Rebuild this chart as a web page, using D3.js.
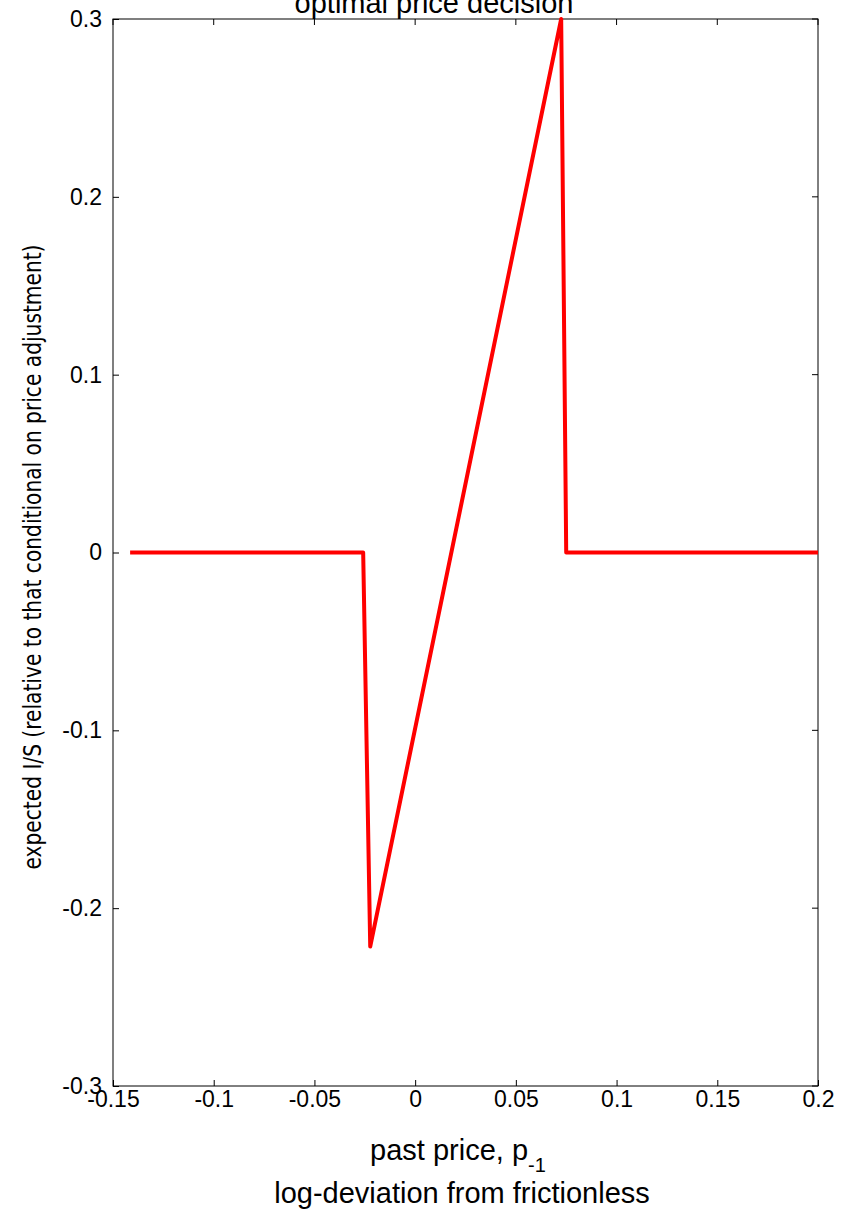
<!DOCTYPE html>
<html><head><meta charset="utf-8">
<script src="https://cdn.jsdelivr.net/npm/d3@7"></script>
<style>body{margin:0;background:#fff}</style>
</head><body>
<script>
const xs = [-0.1415, -0.0258, -0.0223, 0.0725, 0.075, 0.2];
const ys = [0, 0, -0.2216, 0.3, 0, 0];
const xTicks = [-0.15, -0.1, -0.05, 0, 0.05, 0.1, 0.15, 0.2];
const yTicks = [-0.3, -0.2, -0.1, 0, 0.1, 0.2, 0.3];

const W = 844, H = 1216, m = {left: 113, right: 26, top: 19, bottom: 130};
const svg = d3.select('body').append('svg').attr('width', W).attr('height', H)
	.style('font-family', 'Liberation Sans, Arial, sans-serif');

let x = d3.scaleLinear().domain([-0.15, 0.2]).range([m.left, W - m.right]);
let y = d3.scaleLinear().domain([-0.3, 0.3]).range([H - m.bottom, m.top]);

svg.append('rect').attr('x', m.left).attr('y', m.top)
	.attr('width', W - m.left - m.right).attr('height', H - m.top - m.bottom)
	.attr('fill', 'none').attr('stroke', '#000');

let gx = svg.append('g').attr('transform', 'translate(0,' + (H - m.bottom) + ')')
	.call(d3.axisBottom(x).tickValues(xTicks).tickSize(-6).tickPadding(4).tickFormat(d => String(d)));
let gy = svg.append('g').attr('transform', 'translate(' + m.left + ',0)')
	.call(d3.axisLeft(y).tickValues(yTicks).tickSize(-6).tickPadding(11).tickFormat(d => String(+d.toFixed(2))));
[gx, gy].forEach(g => {
	g.attr('font-size', null).attr('font-family', null);
	g.select('.domain').remove();
	g.selectAll('text').style('font-size', '23px').attr('fill', '#000');
});
gx.selectAll('text').attr('dy', '0.75em');
// top and right ticks
svg.append('g').selectAll('line').data(xTicks).join('line')
	.attr('x1', d => x(d)).attr('x2', d => x(d)).attr('y1', m.top).attr('y2', m.top + 6).attr('stroke', '#000');
svg.append('g').selectAll('line').data(yTicks).join('line')
	.attr('x1', W - m.right).attr('x2', W - m.right - 6).attr('y1', d => y(d)).attr('y2', d => y(d)).attr('stroke', '#000');

svg.append('path').datum(d3.zip(xs, ys))
	.attr('fill', 'none').attr('stroke', '#ff0000').attr('stroke-width', 4)
	.attr('stroke-linejoin', 'round')
	.attr('d', d3.line().x(d => x(d[0])).y(d => y(d[1])));

svg.append('text').attr('x', 434).attr('y', 13).attr('text-anchor', 'middle')
	.style('font-size', '29px').text('optimal price decision');

let xl = svg.append('text').attr('x', 458).attr('y', 1160).attr('text-anchor', 'middle').style('font-size', '29px');
xl.append('tspan').text('past price, p');
xl.append('tspan').style('font-size', '20px').attr('dy', 12).text('-1');
svg.append('text').attr('x', 462).attr('y', 1203).attr('text-anchor', 'middle')
	.style('font-size', '29px').text('log-deviation from frictionless');

svg.append('text').attr('transform', 'translate(41,' + 557 + ') rotate(-90)')
	.attr('text-anchor', 'middle').style('font-size', '25px')
	.attr('font-family', 'DejaVu Sans Condensed, sans-serif').style('font-stretch', 'condensed')
	.attr('textLength', 625).attr('lengthAdjust', 'spacingAndGlyphs')
	.text('expected I/S (relative to that conditional on price adjustment)');
</script>
</body></html>
